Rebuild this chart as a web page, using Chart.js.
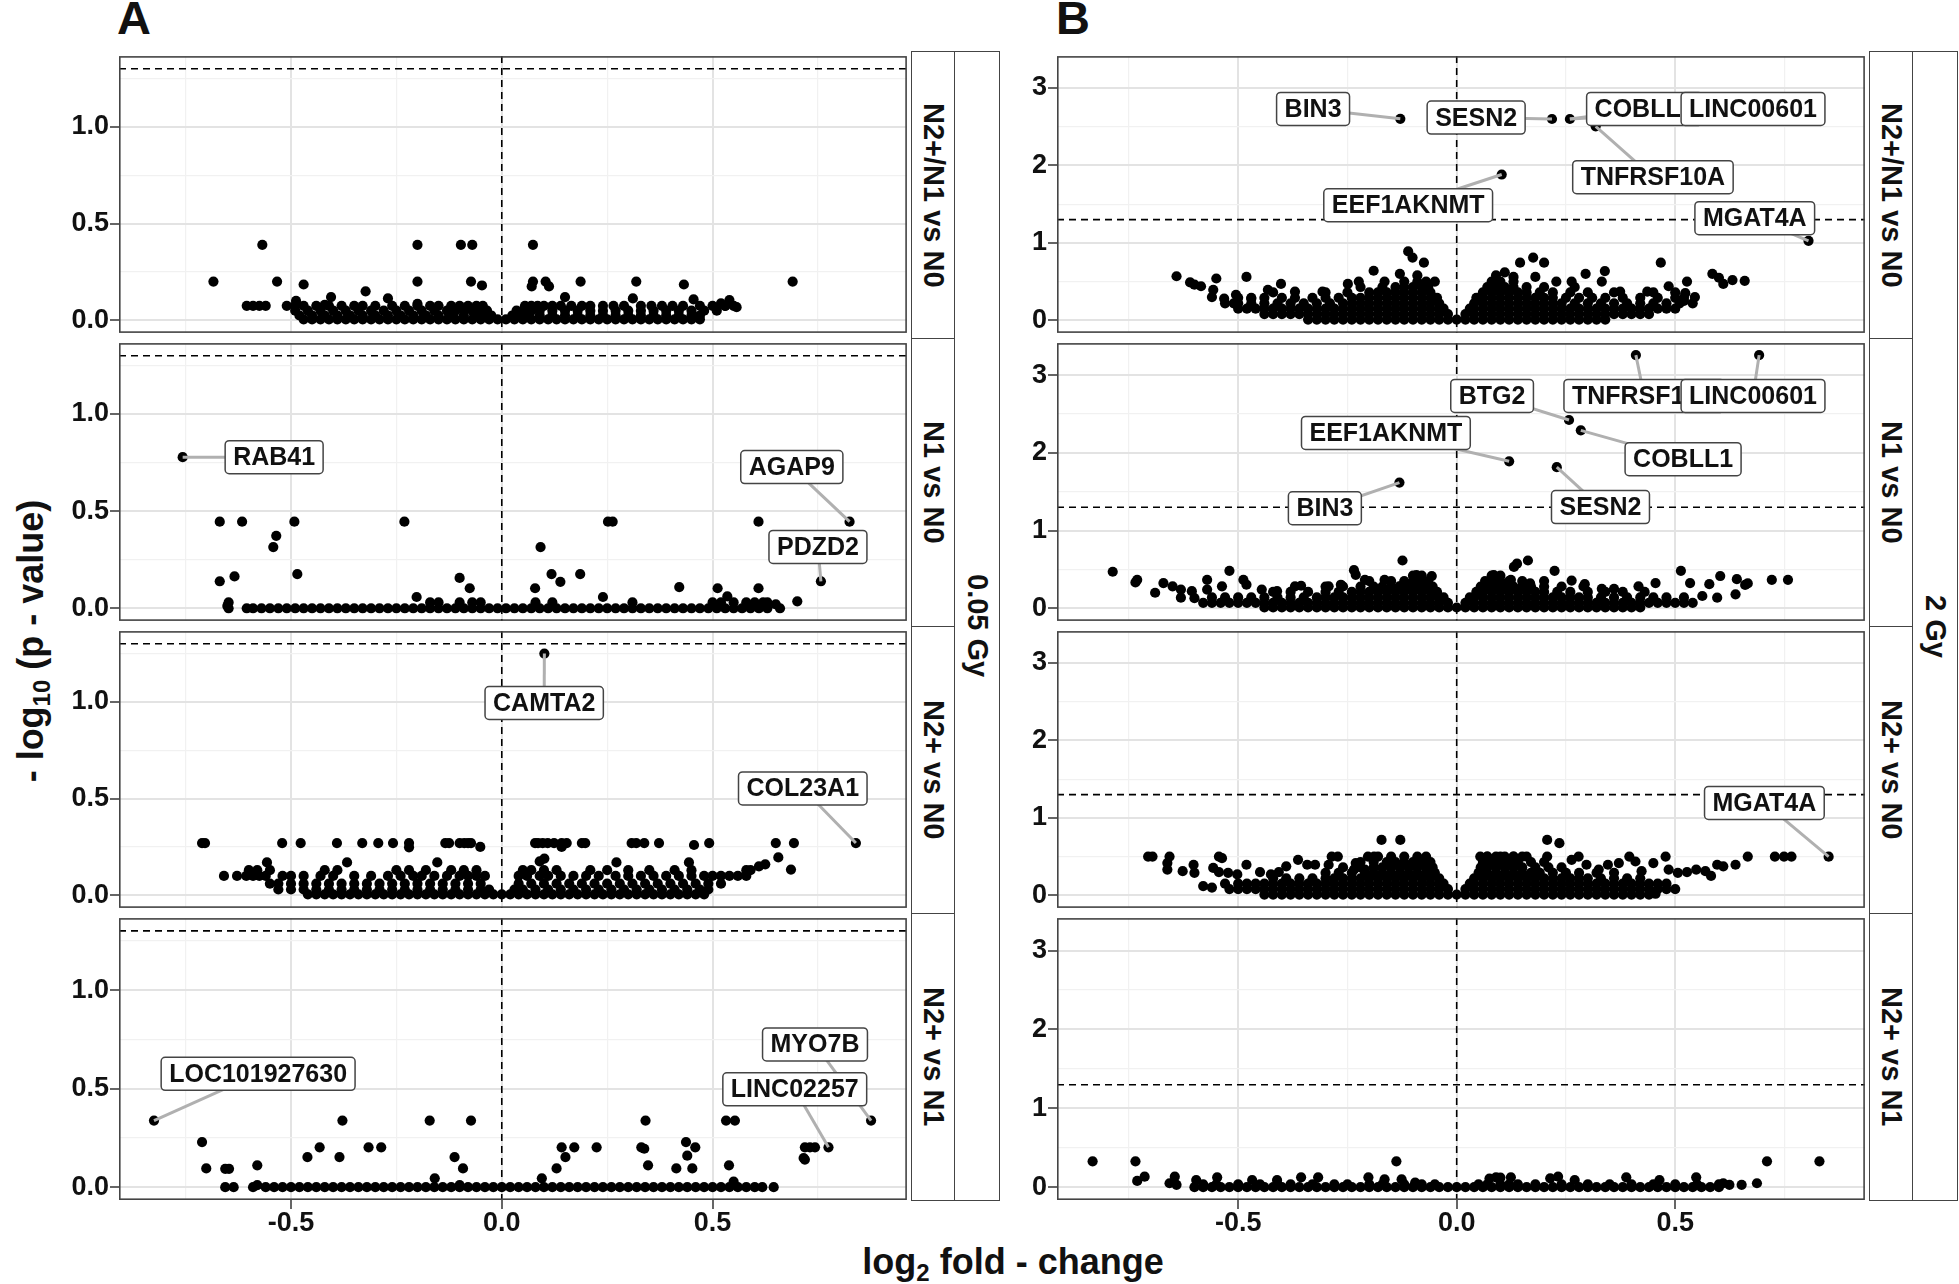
<!DOCTYPE html>
<html>
<head>
<meta charset="utf-8">
<title>Volcano plots 0.05 Gy / 2 Gy</title>
<script src="https://cdn.jsdelivr.net/npm/chart.js@4.4.1/dist/chart.umd.min.js"></script>
<style>
  html, body { margin: 0; padding: 0; background: #fff; }
  #page { position: relative; width: 1959px; height: 1284px; overflow: hidden;
          font-family: "Liberation Sans", Arial, Helvetica, sans-serif; font-weight: bold; color: #111; }
  canvas { position: absolute; }
  .strip { position: absolute; box-sizing: border-box; border: 1.5px solid #444; background: #fff;
           display: flex; align-items: center; justify-content: center; }
  .strip span { writing-mode: vertical-rl; font-size: 29px; white-space: nowrap; }
  .tag { position: absolute; top: -6px; font-size: 47px; line-height: 47px; }
  .ytitle { position: absolute; left: 31px; top: 641px; transform: translate(-50%, -50%) rotate(-90deg);
            font-size: 36px; white-space: nowrap; }
  .xtitle { position: absolute; left: 1013px; top: 1262px; transform: translate(-50%, -50%);
            font-size: 36px; white-space: nowrap; }
  sub { font-size: 24px; vertical-align: -7px; line-height: 0; }
</style>
</head>
<body>
<div id="page">
  <div class="tag" style="left:117px">A</div>
  <div class="tag" style="left:1056px">B</div>
  <div class="ytitle">- log<sub>10</sub> (p - value)</div>
  <div class="xtitle">log<sub>2</sub> fold - change</div>
</div>
<script>
// ---- facets ----
const doses = ['0.05 Gy', '2 Gy'];
const comparisons = ['N2+/N1 vs N0', 'N1 vs N0', 'N2+ vs N0', 'N2+ vs N1'];
const pThreshold = 1.3; // -log10(0.05)

// ---- ticks ----
const xMajor = [-0.5, 0, 0.5];
const xMajorLabels = ['-0.5', '0.0', '0.5'];
const xMinor = [-0.75, -0.25, 0.25, 0.75];
const aYMajor = [0, 0.5, 1];
const aYMajorLabels = ['0.0', '0.5', '1.0'];
const aYMinor = [0.25, 0.75, 1.25];
const bYMajor = [0, 1, 2, 3];
const bYMajorLabels = ['0', '1', '2', '3'];
const bYMinor = [0.5, 1.5, 2.5];

// ---- A: 0.05 Gy ----
// scattered points [log2FC, -log10 p]
const aR1Pts = [[-0.684,0.2],[-0.568,0.39],[-0.533,0.2],[-0.47,0.185],[-0.405,0.12],[-0.323,0.15],[-0.27,0.113],
  [-0.2,0.39],[-0.2,0.2],[-0.2,0.085],[-0.097,0.39],[-0.07,0.39],[-0.073,0.2],[-0.047,0.18],[0.074,0.39],[0.074,0.2],
  [0.071,0.175],[0.104,0.2],[0.112,0.175],[0.15,0.12],[0.187,0.2],[0.319,0.2],[0.311,0.113],[0.432,0.185],[0.69,0.2],
  [0.455,0.108],[0.557,0.068],[0.54,0.105],[0.52,0.088],[0.53,0.075],[-0.488,0.1],[-0.42,0.08]];
// dense rows: [level, x values]
const aR1Rows = [
  [0.075, [-0.605,-0.59,-0.575,-0.56,-0.51,-0.49,-0.47,-0.44,-0.41,-0.38,-0.35,-0.33,-0.3,-0.26,-0.23,-0.2,-0.17,-0.15,-0.12,-0.1,-0.08,-0.06,-0.045,0.055,0.07,0.085,0.1,0.12,0.14,0.165,0.19,0.21,0.24,0.265,0.29,0.33,0.355,0.38,0.405,0.43,0.47,0.5,0.53,0.55]],
  [0.05, [-0.49,-0.46,-0.43,-0.4,-0.37,-0.34,-0.31,-0.28,-0.25,-0.22,-0.19,-0.16,-0.13,-0.11,-0.09,-0.07,-0.05,-0.035,0.035,0.05,0.07,0.09,0.12,0.15,0.18,0.21,0.24,0.27,0.3,0.33,0.36,0.39,0.42,0.45,0.48,0.51]],
  [0.025, [-0.48,-0.45,-0.42,-0.39,-0.36,-0.33,-0.3,-0.27,-0.24,-0.21,-0.18,-0.15,-0.12,-0.09,-0.06,-0.04,-0.025,0.025,0.04,0.06,0.09,0.12,0.15,0.18,0.21,0.24,0.27,0.3,0.33,0.36,0.39,0.42,0.45,0.47]],
  [0.005, [-0.47,-0.45,-0.43,-0.41,-0.39,-0.37,-0.35,-0.33,-0.31,-0.29,-0.27,-0.25,-0.23,-0.21,-0.19,-0.17,-0.15,-0.13,-0.11,-0.09,-0.07,-0.05,-0.03,-0.01,0.01,0.03,0.05,0.07,0.09,0.11,0.13,0.15,0.17,0.19,0.21,0.23,0.25,0.27,0.29,0.31,0.33,0.35,0.37,0.39,0.41,0.43,0.45,0.47]]
];

const aR2Pts = [[-0.757,0.778],[-0.669,0.446],[-0.616,0.446],[-0.492,0.446],[-0.231,0.446],[0.252,0.446],[0.263,0.446],
  [0.609,0.446],[0.825,0.446],[-0.535,0.373],[-0.542,0.315],[0.092,0.315],[-0.669,0.139],[-0.634,0.164],[-0.485,0.176],
  [-0.1,0.156],[-0.076,0.103],[0.118,0.176],[0.139,0.136],[0.186,0.176],[0.079,0.103],[0.421,0.109],[0.512,0.103],
  [0.609,0.103],[0.757,0.139],[0.701,0.036],[-0.648,0.03],[-0.651,0.012],[-0.202,0.058],[0.24,0.058],[0.535,0.061],
  [0.65,0.02],[0.63,0.03]];
const aR2Rows = [
  [0.03, [-0.17,-0.15,-0.1,-0.07,-0.05,0.08,0.12,0.31,0.5,0.52,0.55,0.58,0.6,0.62]],
  [0.0, [-0.648,-0.605,-0.59,-0.57,-0.55,-0.53,-0.51,-0.49,-0.47,-0.45,-0.43,-0.41,-0.39,-0.37,-0.35,-0.33,-0.31,-0.29,-0.27,-0.25,-0.23,-0.21,-0.19,-0.17,-0.15,-0.13,-0.11,-0.09,-0.07,-0.05,-0.03,-0.01,0.01,0.03,0.05,0.07,0.09,0.11,0.13,0.15,0.17,0.19,0.21,0.23,0.25,0.27,0.29,0.31,0.33,0.35,0.37,0.39,0.41,0.43,0.45,0.47,0.49,0.51,0.53,0.55,0.57,0.59,0.61,0.63,0.66]]
];

const aR3Pts = [[0.101,1.249],[0.84,0.27],[-0.22,0.248],[-0.051,0.25],[0.142,0.25],[0.456,0.26],[0.656,0.196],
  [0.101,0.19],[0.09,0.175],[-0.557,0.17],[-0.367,0.17],[-0.153,0.17],[0.272,0.17],[0.444,0.17],[0.625,0.16],
  [0.686,0.133],[0.61,0.15],[0.59,0.13]];
const aR3Rows = [
  [0.27, [-0.711,-0.704,-0.521,-0.477,-0.391,-0.331,-0.293,-0.258,-0.22,-0.134,-0.125,-0.1,-0.089,-0.08,-0.073,0.079,0.086,0.097,0.109,0.124,0.142,0.154,0.19,0.198,0.308,0.319,0.338,0.373,0.492,0.65,0.693]],
  [0.13, [-0.6,-0.58,-0.55,-0.42,-0.39,-0.25,-0.22,-0.18,-0.12,-0.09,-0.06,0.05,0.07,0.1,0.13,0.21,0.25,0.3,0.35,0.41,0.45,0.58]],
  [0.1, [-0.659,-0.628,-0.606,-0.59,-0.575,-0.56,-0.52,-0.5,-0.47,-0.43,-0.4,-0.35,-0.31,-0.27,-0.24,-0.21,-0.19,-0.16,-0.13,-0.1,-0.08,-0.06,-0.04,0.04,0.06,0.09,0.11,0.14,0.17,0.2,0.23,0.27,0.3,0.33,0.36,0.39,0.42,0.45,0.48,0.5,0.52,0.54,0.56,0.58]],
  [0.06, [-0.55,-0.53,-0.5,-0.47,-0.44,-0.41,-0.38,-0.35,-0.32,-0.29,-0.26,-0.23,-0.2,-0.17,-0.14,-0.11,-0.08,-0.05,0.04,0.07,0.1,0.13,0.16,0.19,0.22,0.25,0.28,0.31,0.34,0.37,0.4,0.43,0.46,0.49,0.52]],
  [0.03, [-0.53,-0.5,-0.47,-0.44,-0.41,-0.38,-0.35,-0.32,-0.29,-0.26,-0.23,-0.2,-0.17,-0.14,-0.11,-0.08,-0.05,-0.03,0.03,0.05,0.08,0.11,0.14,0.17,0.2,0.23,0.26,0.29,0.32,0.35,0.38,0.41,0.44,0.47,0.49]],
  [0.005, [-0.46,-0.44,-0.42,-0.4,-0.38,-0.36,-0.34,-0.32,-0.3,-0.28,-0.26,-0.24,-0.22,-0.2,-0.18,-0.16,-0.14,-0.12,-0.1,-0.08,-0.06,-0.04,-0.02,0,0.02,0.04,0.06,0.08,0.1,0.12,0.14,0.16,0.18,0.2,0.22,0.24,0.26,0.28,0.3,0.32,0.34,0.36,0.38,0.4,0.42,0.44,0.46,0.48]]
];

const aR4Pts = [[-0.825,0.338],[0.876,0.338],[0.775,0.202],[-0.378,0.338],[-0.171,0.338],[-0.073,0.338],[0.341,0.338],
  [0.532,0.338],[0.553,0.338],[-0.711,0.229],[0.437,0.229],[-0.432,0.202],[-0.316,0.202],[-0.286,0.202],[0.142,0.202],
  [0.172,0.202],[0.225,0.202],[0.331,0.202],[0.338,0.195],[0.459,0.202],[0.719,0.202],[0.731,0.202],[0.743,0.202],
  [0.716,0.148],[0.719,0.14],[-0.461,0.153],[-0.385,0.153],[-0.112,0.153],[0.151,0.153],[0.44,0.16],[-0.58,0.111],
  [-0.701,0.095],[-0.092,0.095],[0.13,0.095],[0.347,0.111],[0.414,0.095],[0.452,0.095],[0.539,0.111],[-0.656,0.093],
  [-0.647,0.093],[-0.159,0.045],[0.095,0.045],[0.55,0.028],[-0.656,0],[-0.636,0],[-0.59,0],[-0.58,0.01],[0.618,0],
  [0.645,0],[-0.1,0.01]];
const aR4Rows = [
  [0.0, [-0.56,-0.54,-0.52,-0.5,-0.48,-0.46,-0.44,-0.42,-0.4,-0.38,-0.36,-0.34,-0.32,-0.3,-0.28,-0.26,-0.24,-0.22,-0.2,-0.18,-0.16,-0.14,-0.12,-0.1,-0.08,-0.06,-0.04,-0.02,0,0.02,0.04,0.06,0.08,0.1,0.12,0.14,0.16,0.18,0.2,0.22,0.24,0.26,0.28,0.3,0.32,0.34,0.36,0.38,0.4,0.42,0.44,0.46,0.48,0.5,0.52,0.54,0.56,0.58,0.6]]
];

// ---- B: 2 Gy ----
const bR1Pts = [[-0.129,2.602],[0.218,2.6],[0.259,2.6],[0.318,2.506],[0.103,1.883],[0.805,1.027],
  [-0.641,0.569],[-0.61,0.49],[-0.6,0.46],[-0.585,0.44],[-0.557,0.395],[-0.55,0.54],[-0.532,0.28],[-0.505,0.33],
  [-0.481,0.56],[-0.432,0.395],[-0.402,0.47],[-0.37,0.37],[-0.307,0.37],[-0.249,0.47],[-0.224,0.5],[-0.19,0.64],
  [-0.165,0.5],[-0.111,0.89],[-0.101,0.81],[-0.075,0.744],[-0.05,0.5],[0.11,0.62],[0.145,0.744],[0.175,0.81],
  [0.2,0.744],[0.18,0.56],[0.228,0.5],[0.263,0.5],[0.295,0.6],[0.339,0.636],[0.332,0.5],[0.374,0.37],[0.467,0.744],
  [0.436,0.37],[0.485,0.44],[0.527,0.5],[0.523,0.35],[0.585,0.6],[0.61,0.47],[0.631,0.52],[0.659,0.51],[0.6,0.55],
  [-0.51,0.22],[-0.47,0.28],[-0.56,0.3],[0.545,0.3],[0.52,0.25],[-0.13,0.6],[-0.09,0.58],[0.09,0.58],[0.13,0.56]];
const bR1Rows = [
  [0.5, [-0.12,-0.09,-0.07,0.08,0.1,0.13]],
  [0.43, [-0.22,-0.17,-0.14,-0.12,-0.1,-0.08,-0.065,0.07,0.09,0.11,0.13,0.16,0.2,0.27]],
  [0.36, [-0.42,-0.3,-0.25,-0.2,-0.18,-0.16,-0.14,-0.12,-0.1,-0.08,-0.06,0.06,0.08,0.1,0.12,0.14,0.16,0.19,0.22,0.26,0.3,0.36,0.45,0.5]],
  [0.29, [-0.5,-0.47,-0.44,-0.4,-0.37,-0.33,-0.3,-0.27,-0.24,-0.22,-0.2,-0.18,-0.16,-0.14,-0.12,-0.1,-0.08,-0.06,-0.045,0.045,0.06,0.08,0.1,0.12,0.14,0.16,0.18,0.2,0.22,0.25,0.28,0.31,0.34,0.38,0.42,0.46,0.5,0.52]],
  [0.22, [-0.53,-0.5,-0.47,-0.44,-0.41,-0.38,-0.35,-0.32,-0.29,-0.26,-0.24,-0.22,-0.2,-0.18,-0.16,-0.14,-0.12,-0.1,-0.08,-0.06,-0.04,0.04,0.06,0.08,0.1,0.12,0.14,0.16,0.18,0.2,0.22,0.24,0.27,0.3,0.33,0.36,0.39,0.42,0.45,0.48,0.51,0.54]],
  [0.15, [-0.5,-0.48,-0.46,-0.44,-0.42,-0.4,-0.38,-0.36,-0.34,-0.32,-0.3,-0.28,-0.26,-0.24,-0.22,-0.2,-0.18,-0.16,-0.14,-0.12,-0.1,-0.08,-0.06,-0.04,-0.03,0.03,0.04,0.06,0.08,0.1,0.12,0.14,0.16,0.18,0.2,0.22,0.24,0.26,0.28,0.3,0.32,0.34,0.36,0.38,0.4,0.42,0.44,0.46,0.48,0.5]],
  [0.08, [-0.44,-0.42,-0.4,-0.38,-0.36,-0.34,-0.32,-0.3,-0.28,-0.26,-0.24,-0.22,-0.2,-0.18,-0.16,-0.14,-0.12,-0.1,-0.08,-0.06,-0.04,-0.02,0.02,0.04,0.06,0.08,0.1,0.12,0.14,0.16,0.18,0.2,0.22,0.24,0.26,0.28,0.3,0.32,0.34,0.36,0.38,0.4,0.42,0.44]],
  [0.01, [-0.34,-0.32,-0.3,-0.28,-0.26,-0.24,-0.22,-0.2,-0.18,-0.16,-0.14,-0.12,-0.1,-0.08,-0.06,-0.04,-0.02,0,0.02,0.04,0.06,0.08,0.1,0.12,0.14,0.16,0.18,0.2,0.22,0.24,0.26,0.28,0.3,0.32,0.34]]
];

const bR2Pts = [[0.41,3.258],[0.692,3.258],[0.257,2.423],[0.284,2.29],[0.12,1.891],[0.229,1.816],[-0.131,1.617],
  [-0.787,0.47],[-0.735,0.333],[-0.731,0.366],[-0.671,0.324],[-0.65,0.283],[-0.631,0.24],[-0.631,0.137],[-0.606,0.22],
  [-0.571,0.366],[-0.571,0.24],[-0.537,0.283],[-0.52,0.482],[-0.488,0.366],[-0.481,0.303],[-0.446,0.24],[-0.411,0.22],
  [-0.37,0.283],[-0.356,0.29],[-0.293,0.283],[-0.265,0.303],[-0.235,0.49],[-0.231,0.43],[-0.21,0.366],[-0.165,0.366],
  [-0.131,0.283],[-0.124,0.615],[-0.092,0.428],[-0.085,0.415],[-0.057,0.415],[0.085,0.428],[0.131,0.532],[0.138,0.574],
  [0.163,0.615],[0.124,0.366],[0.168,0.32],[0.224,0.482],[0.263,0.357],[0.293,0.31],[0.332,0.25],[0.36,0.25],
  [0.416,0.283],[0.455,0.324],[0.513,0.482],[0.534,0.324],[0.578,0.31],[0.603,0.415],[0.641,0.374],[0.66,0.3],
  [0.666,0.32],[0.721,0.366],[0.758,0.366],[0.596,0.137],[0.638,0.18],[0.562,0.158],[-0.69,0.2],[-0.6,0.13]];
const bR2Rows = [
  [0.42, [-0.1,-0.08,0.08,0.1]],
  [0.35, [-0.2,-0.15,-0.12,-0.1,-0.08,-0.065,0.065,0.08,0.1,0.12,0.15,0.2]],
  [0.28, [-0.3,-0.26,-0.22,-0.19,-0.17,-0.15,-0.13,-0.11,-0.09,-0.07,-0.055,0.055,0.07,0.09,0.11,0.13,0.15,0.17,0.2,0.24,0.29]],
  [0.21, [-0.42,-0.38,-0.34,-0.3,-0.27,-0.24,-0.22,-0.2,-0.18,-0.16,-0.14,-0.12,-0.1,-0.08,-0.06,-0.045,0.045,0.06,0.08,0.1,0.12,0.14,0.16,0.18,0.2,0.23,0.26,0.3,0.34,0.38,0.43]],
  [0.14, [-0.56,-0.53,-0.5,-0.47,-0.44,-0.41,-0.38,-0.35,-0.32,-0.3,-0.28,-0.26,-0.24,-0.22,-0.2,-0.18,-0.16,-0.14,-0.12,-0.1,-0.08,-0.06,-0.04,-0.03,0.03,0.04,0.06,0.08,0.1,0.12,0.14,0.16,0.18,0.2,0.22,0.24,0.26,0.28,0.3,0.33,0.36,0.39,0.42,0.45,0.48,0.52]],
  [0.07, [-0.58,-0.56,-0.54,-0.52,-0.5,-0.48,-0.46,-0.44,-0.42,-0.4,-0.38,-0.36,-0.34,-0.32,-0.3,-0.28,-0.26,-0.24,-0.22,-0.2,-0.18,-0.16,-0.14,-0.12,-0.1,-0.08,-0.06,-0.04,-0.02,0.02,0.04,0.06,0.08,0.1,0.12,0.14,0.16,0.18,0.2,0.22,0.24,0.26,0.28,0.3,0.32,0.34,0.36,0.38,0.4,0.42,0.44,0.46,0.48,0.5,0.52,0.54]],
  [0.01, [-0.44,-0.42,-0.4,-0.38,-0.36,-0.34,-0.32,-0.3,-0.28,-0.26,-0.24,-0.22,-0.2,-0.18,-0.16,-0.14,-0.12,-0.1,-0.08,-0.06,-0.04,-0.02,0,0.02,0.04,0.06,0.08,0.1,0.12,0.14,0.16,0.18,0.2,0.22,0.24,0.26,0.28,0.3,0.32,0.34,0.36,0.38,0.4,0.42]]
];

const bR3Pts = [[0.851,0.499],[-0.706,0.5],[-0.696,0.5],[-0.657,0.5],[-0.662,0.416],[-0.662,0.333],[-0.627,0.312],
  [-0.602,0.395],[-0.6,0.29],[-0.557,0.354],[-0.544,0.5],[-0.537,0.48],[-0.544,0.3],[-0.523,0.29],[-0.502,0.27],
  [-0.481,0.395],[-0.45,0.3],[-0.425,0.27],[-0.407,0.3],[-0.39,0.375],[-0.363,0.458],[-0.342,0.395],[-0.324,0.395],
  [-0.293,0.395],[-0.286,0.5],[-0.272,0.5],[-0.235,0.333],[-0.231,0.416],[-0.21,0.333],[-0.203,0.5],[-0.189,0.5],
  [-0.172,0.716],[-0.129,0.716],[0.207,0.716],[0.235,0.674],[0.054,0.5],[0.07,0.5],[0.09,0.5],[0.11,0.5],[0.13,0.5],
  [0.15,0.5],[0.207,0.5],[0.263,0.458],[0.279,0.5],[0.297,0.395],[0.325,0.333],[0.346,0.395],[0.371,0.416],[0.395,0.5],
  [0.409,0.437],[0.423,0.312],[0.45,0.416],[0.478,0.5],[0.485,0.333],[0.506,0.29],[0.527,0.3],[0.548,0.333],
  [0.569,0.312],[0.582,0.25],[0.596,0.395],[0.61,0.375],[0.638,0.395],[0.666,0.5],[0.728,0.5],[0.749,0.5],[0.766,0.5],
  [0.455,0.02],[-0.58,0.12],[-0.56,0.1],[-0.53,0.15]];
const bR3Rows = [
  [0.5, [-0.18,-0.15,-0.12,-0.09,-0.07,0.07,0.1,0.13,0.16]],
  [0.43, [-0.22,-0.19,-0.16,-0.14,-0.12,-0.1,-0.08,-0.06,0.06,0.08,0.1,0.12,0.14,0.17,0.2]],
  [0.36, [-0.26,-0.22,-0.19,-0.17,-0.15,-0.13,-0.11,-0.09,-0.07,-0.055,0.055,0.07,0.09,0.11,0.13,0.15,0.18,0.21,0.24]],
  [0.29, [-0.3,-0.27,-0.24,-0.21,-0.19,-0.17,-0.15,-0.13,-0.11,-0.09,-0.07,-0.05,0.05,0.07,0.09,0.11,0.13,0.15,0.17,0.19,0.22,0.25,0.28,0.32,0.36]],
  [0.22, [-0.42,-0.39,-0.36,-0.33,-0.3,-0.28,-0.26,-0.24,-0.22,-0.2,-0.18,-0.16,-0.14,-0.12,-0.1,-0.08,-0.06,-0.04,0.04,0.06,0.08,0.1,0.12,0.14,0.16,0.18,0.2,0.22,0.24,0.26,0.28,0.3,0.33,0.36,0.39,0.42]],
  [0.15, [-0.5,-0.48,-0.46,-0.44,-0.42,-0.4,-0.38,-0.36,-0.34,-0.32,-0.3,-0.28,-0.26,-0.24,-0.22,-0.2,-0.18,-0.16,-0.14,-0.12,-0.1,-0.08,-0.06,-0.04,-0.03,0.03,0.04,0.06,0.08,0.1,0.12,0.14,0.16,0.18,0.2,0.22,0.24,0.26,0.28,0.3,0.32,0.34,0.36,0.38,0.4,0.42,0.44,0.46,0.48]],
  [0.08, [-0.52,-0.5,-0.48,-0.46,-0.44,-0.42,-0.4,-0.38,-0.36,-0.34,-0.32,-0.3,-0.28,-0.26,-0.24,-0.22,-0.2,-0.18,-0.16,-0.14,-0.12,-0.1,-0.08,-0.06,-0.04,-0.02,0.02,0.04,0.06,0.08,0.1,0.12,0.14,0.16,0.18,0.2,0.22,0.24,0.26,0.28,0.3,0.32,0.34,0.36,0.38,0.4,0.42,0.44,0.46,0.48,0.5]],
  [0.01, [-0.44,-0.42,-0.4,-0.38,-0.36,-0.34,-0.32,-0.3,-0.28,-0.26,-0.24,-0.22,-0.2,-0.18,-0.16,-0.14,-0.12,-0.1,-0.08,-0.06,-0.04,-0.02,0,0.02,0.04,0.06,0.08,0.1,0.12,0.14,0.16,0.18,0.2,0.22,0.24,0.26,0.28,0.3,0.32,0.34,0.36,0.38,0.4,0.42,0.44]]
];

const bR4Pts = [[-0.833,0.328],[-0.735,0.328],[-0.731,0.079],[-0.714,0.133],[-0.657,0.05],[-0.645,0.133],[-0.641,0.03],
  [-0.596,0.091],[-0.548,0.125],[-0.468,0.091],[-0.411,0.091],[-0.356,0.125],[-0.317,0.125],[-0.202,0.125],
  [-0.165,0.1],[-0.138,0.328],[-0.126,0.1],[-0.095,0.058],[0.075,0.11],[0.09,0.125],[0.1,0.12],[0.124,0.125],
  [0.214,0.112],[0.232,0.133],[0.27,0.091],[0.388,0.125],[0.464,0.091],[0.548,0.125],[0.61,0.05],[0.624,0.03],
  [0.652,0.03],[0.687,0.05],[0.71,0.328],[0.83,0.328]];
const bR4Rows = [
  [0.035, [-0.58,-0.55,-0.5,-0.45,-0.41,-0.38,-0.33,-0.28,-0.25,-0.2,-0.17,-0.12,-0.08,-0.05,0.05,0.07,0.1,0.12,0.14,0.18,0.24,0.3,0.35,0.4,0.45,0.5,0.55,0.6]],
  [0.0, [-0.6,-0.58,-0.56,-0.54,-0.52,-0.5,-0.48,-0.46,-0.44,-0.42,-0.4,-0.38,-0.36,-0.34,-0.32,-0.3,-0.28,-0.26,-0.24,-0.22,-0.2,-0.18,-0.16,-0.14,-0.12,-0.1,-0.08,-0.06,-0.04,-0.02,0,0.02,0.04,0.06,0.08,0.1,0.12,0.14,0.16,0.18,0.2,0.22,0.24,0.26,0.28,0.3,0.32,0.34,0.36,0.38,0.4,0.42,0.44,0.46,0.48,0.5,0.52,0.54,0.56,0.58,0.6]]
];

// ---- labelled genes (point coordinates) ----
const aR2Genes = ['RAB41', 'AGAP9', 'PDZD2'];
const aR2GeneXY = [[-0.757,0.778],[0.825,0.446],[0.757,0.139]];
const aR3Genes = ['CAMTA2', 'COL23A1'];
const aR3GeneXY = [[0.101,1.249],[0.84,0.27]];
const aR4Genes = ['LOC101927630', 'MYO7B', 'LINC02257'];
const aR4GeneXY = [[-0.825,0.338],[0.876,0.338],[0.775,0.202]];
const bR1Genes = ['BIN3', 'SESN2', 'COBLL1', 'LINC00601', 'TNFRSF10A', 'EEF1AKNMT', 'MGAT4A'];
const bR1GeneXY = [[-0.129,2.602],[0.218,2.6],[0.259,2.6],[0.259,2.6],[0.318,2.506],[0.103,1.883],[0.805,1.027]];
const bR2Genes = ['BTG2', 'TNFRSF10A', 'LINC00601', 'EEF1AKNMT', 'COBLL1', 'BIN3', 'SESN2'];
const bR2GeneXY = [[0.257,2.423],[0.41,3.258],[0.692,3.258],[0.12,1.891],[0.284,2.29],[-0.131,1.617],[0.229,1.816]];
const bR3Genes = ['MGAT4A'];
const bR3GeneXY = [[0.851,0.499]];

// label box centres (data units) - layout only
const labelBoxAt = {
  a2: [[-0.54,0.778],[0.688,0.727],[0.75,0.316]],
  a3: [[0.1006,0.9935],[0.714,0.552]],
  a4: [[-0.578,0.575],[0.743,0.724],[0.695,0.4965]],
  b1: [[-0.3286,2.73],[0.0445,2.618],[0.43,2.73],[0.678,2.73],[0.449,1.849],[-0.111,1.486],[0.682,1.319]],
  b2: [[0.081,2.733],[0.429,2.733],[0.678,2.733],[-0.162,2.257],[0.518,1.919],[-0.3016,1.287],[0.329,1.302]],
  b3: [[0.704,1.193]]
};

// ---- layout ----
const FONT = '"Liberation Sans", Arial, Helvetica, sans-serif';
const rowTops = [51, 338, 626, 913];
const rowHeights = [287, 288, 287, 287];
const xAxisH = 50;
const columns = [
  { key: 'a', left: 0, width: 912, axisW: 119, xMin: -0.908, xMax: 0.961, yMin: -0.065, yMax: 1.365,
    yMajor: aYMajor, yLabels: aYMajorLabels, yMinor: aYMinor,
    pts: [aR1Pts, aR2Pts, aR3Pts, aR4Pts], rows: [aR1Rows, aR2Rows, aR3Rows, aR4Rows],
    genes: [[], aR2Genes, aR3Genes, aR4Genes], geneXY: [[], aR2GeneXY, aR3GeneXY, aR4GeneXY] },
  { key: 'b', left: 960, width: 910, axisW: 97, xMin: -0.9145, xMax: 0.934, yMin: -0.1625, yMax: 3.4125,
    yMajor: bYMajor, yLabels: bYMajorLabels, yMinor: bYMinor,
    pts: [bR1Pts, bR2Pts, bR3Pts, bR4Pts], rows: [bR1Rows, bR2Rows, bR3Rows, bR4Rows],
    genes: [bR1Genes, bR2Genes, bR3Genes, []], geneXY: [bR1GeneXY, bR2GeneXY, bR3GeneXY, []] }
];

const labelsByCanvas = {};

function near(v, list) { return list.some(t => Math.abs(t - v) < 1e-6); }

function roundRect(ctx, x, y, w, h, r) {
  ctx.beginPath();
  ctx.moveTo(x + r, y);
  ctx.arcTo(x + w, y, x + w, y + h, r);
  ctx.arcTo(x + w, y + h, x, y + h, r);
  ctx.arcTo(x, y + h, x, y, r);
  ctx.arcTo(x, y, x + w, y, r);
  ctx.closePath();
}

const panelDecor = {
  id: 'panelDecor',
  beforeDatasetsDraw(chart) {
    const { ctx, chartArea: a, scales: { x, y } } = chart;
    ctx.save();
    ctx.beginPath();
    ctx.rect(a.left, a.top, a.right - a.left, a.bottom - a.top);
    ctx.clip();
    ctx.strokeStyle = '#000';
    ctx.lineWidth = 1.6;
    ctx.setLineDash([7, 5]);
    const x0 = x.getPixelForValue(0);
    ctx.beginPath(); ctx.moveTo(x0, a.top); ctx.lineTo(x0, a.bottom); ctx.stroke();
    const yt = y.getPixelForValue(pThreshold);
    ctx.beginPath(); ctx.moveTo(a.left, yt); ctx.lineTo(a.right, yt); ctx.stroke();
    ctx.restore();
  },
  afterDatasetsDraw(chart) {
    const { ctx, chartArea: a, scales: { x, y } } = chart;
    const list = labelsByCanvas[chart.canvas.id] || [];
    ctx.save();
    // repel segments
    ctx.strokeStyle = '#b0b0b0';
    ctx.lineWidth = 3;
    list.forEach(l => {
      ctx.beginPath();
      ctx.moveTo(x.getPixelForValue(l.x), y.getPixelForValue(l.y));
      ctx.lineTo(x.getPixelForValue(l.bx), y.getPixelForValue(l.by));
      ctx.stroke();
    });
    // label boxes
    ctx.font = 'bold 25px ' + FONT;
    ctx.textAlign = 'center';
    ctx.textBaseline = 'middle';
    list.forEach(l => {
      const cx = x.getPixelForValue(l.bx), cy = y.getPixelForValue(l.by);
      const w = ctx.measureText(l.g).width + 16, h = 33;
      roundRect(ctx, cx - w / 2, cy - h / 2, w, h, 4);
      ctx.fillStyle = '#fff';
      ctx.fill();
      ctx.strokeStyle = '#444';
      ctx.lineWidth = 1.5;
      ctx.stroke();
      ctx.fillStyle = '#111';
      ctx.fillText(l.g, cx, cy + 1);
    });
    // panel border
    ctx.strokeStyle = '#444';
    ctx.lineWidth = 1.6;
    ctx.strokeRect(a.left + 0.8, a.top + 0.8, a.right - a.left - 1.6, a.bottom - a.top - 1.6);
    ctx.restore();
  }
};

const page = document.getElementById('page');

columns.forEach((col, ci) => {
  for (let r = 0; r < 4; r++) {
    const last = r === 3;
    const canvas = document.createElement('canvas');
    canvas.id = col.key + (r + 1);
    canvas.width = col.width;
    canvas.height = rowHeights[r] + (last ? xAxisH : 0);
    canvas.style.left = col.left + 'px';
    canvas.style.top = rowTops[r] + 'px';
    page.appendChild(canvas);

    const data = col.pts[r].map(p => ({ x: p[0], y: p[1] }));
    col.rows[r].forEach(([lv, xs]) => xs.forEach(v => data.push({ x: v, y: lv })));

    const boxes = labelBoxAt[canvas.id] || [];
    labelsByCanvas[canvas.id] = col.genes[r].map((g, i) => ({
      g, x: col.geneXY[r][i][0], y: col.geneXY[r][i][1], bx: boxes[i][0], by: boxes[i][1]
    }));

    const xTicks = [...xMinor, ...xMajor].sort((p, q) => p - q);
    const yTicks = [...col.yMinor, ...col.yMajor].sort((p, q) => p - q);

    new Chart(canvas.getContext('2d'), {
      type: 'scatter',
      data: { datasets: [{ data, pointRadius: 5.1, pointHoverRadius: 5.1, backgroundColor: '#000',
                           borderColor: '#000', borderWidth: 0, pointBorderWidth: 0 }] },
      options: {
        responsive: false, animation: false, devicePixelRatio: 1, events: [],
        layout: { padding: 0 },
        plugins: { legend: { display: false }, tooltip: { enabled: false } },
        scales: {
          x: {
            type: 'linear', min: col.xMin, max: col.xMax,
            afterBuildTicks: s => { s.ticks = xTicks.map(v => ({ value: v })); },
            afterFit: s => { s.height = last ? xAxisH : 0; s.paddingLeft = 0; s.paddingRight = 0; },
            border: { display: false },
            grid: {
              color: c => near(c.tick.value, xMajor) ? '#e3e3e3' : '#f1f1f1',
              lineWidth: c => near(c.tick.value, xMajor) ? 2 : 1.2,
              drawTicks: last, tickLength: 9, tickWidth: 1.5,
              tickColor: c => near(c.tick.value, xMajor) ? '#333' : 'rgba(0,0,0,0)'
            },
            ticks: {
              display: last, autoSkip: false, maxRotation: 0, padding: -2, color: '#111',
              font: { size: 27, weight: 'bold', family: FONT },
              callback: v => { const i = xMajor.findIndex(t => Math.abs(t - v) < 1e-6); return i >= 0 ? xMajorLabels[i] : ''; }
            }
          },
          y: {
            type: 'linear', min: col.yMin, max: col.yMax,
            afterBuildTicks: s => { s.ticks = yTicks.map(v => ({ value: v })); },
            afterFit: s => { s.width = col.axisW; s.paddingTop = 0; s.paddingBottom = 0; },
            border: { display: false },
            grid: {
              color: c => near(c.tick.value, col.yMajor) ? '#e3e3e3' : '#f1f1f1',
              lineWidth: c => near(c.tick.value, col.yMajor) ? 2 : 1.2,
              drawTicks: true, tickLength: 9, tickWidth: 1.5,
              tickColor: c => near(c.tick.value, col.yMajor) ? '#333' : 'rgba(0,0,0,0)'
            },
            ticks: {
              autoSkip: false, padding: 1, color: '#111',
              font: { size: 27, weight: 'bold', family: FONT },
              callback: v => { const i = col.yMajor.findIndex(t => Math.abs(t - v) < 1e-6); return i >= 0 ? col.yLabels[i] : ''; }
            }
          }
        }
      },
      plugins: [panelDecor]
    });

    // row strip
    const s = document.createElement('div');
    s.className = 'strip';
    s.style.left = (col.left + col.width - 1) + 'px';
    s.style.top = rowTops[r] + 'px';
    s.style.width = '44px';
    s.style.height = (rowHeights[r] + 1) + 'px';
    s.innerHTML = '<span>' + comparisons[r] + '</span>';
    page.appendChild(s);
  }
  // dose strip
  const d = document.createElement('div');
  d.className = 'strip';
  d.style.left = (col.left + col.width + 42) + 'px';
  d.style.top = rowTops[0] + 'px';
  d.style.width = '46px';
  d.style.height = (rowTops[3] + rowHeights[3] - rowTops[0] + 1) + 'px';
  d.innerHTML = '<span>' + doses[ci] + '</span>';
  page.appendChild(d);
});
</script>
</body>
</html>
